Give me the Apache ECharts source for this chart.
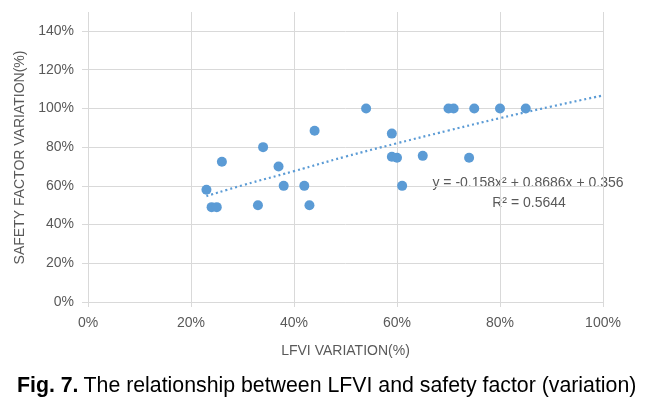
<!DOCTYPE html>
<html>
<head>
<meta charset="utf-8">
<script src="https://cdn.jsdelivr.net/npm/echarts@6/dist/echarts.min.js"></script>
<style>html,body{margin:0;padding:0;background:#fff;}#c{width:647px;height:403px;}</style>
</head>
<body>
<div id="c"></div>
<script>
// LFVI variation (x) and safety factor variation (y), as fractions
const lfvi = [0.23, 0.24, 0.25, 0.26, 0.33, 0.34, 0.37, 0.38, 0.42, 0.43, 0.44,
              0.54, 0.59, 0.59, 0.60, 0.61, 0.65, 0.70, 0.71, 0.74, 0.75, 0.80, 0.85];
const safety = [0.58, 0.49, 0.49, 0.725, 0.50, 0.80, 0.70, 0.60, 0.60, 0.50, 0.885,
                1.00, 0.87, 0.75, 0.745, 0.60, 0.755, 1.00, 1.00, 0.745, 1.00, 1.00, 1.00];
// trendline values
const trendX = [0.23, 0.30, 0.40, 0.50, 0.60, 0.70, 0.80, 0.90, 1.00];
const trendY = [0.547, 0.603, 0.676, 0.751, 0.820, 0.886, 0.950, 1.010, 1.067];
const xTicks = [0, 0.2, 0.4, 0.6, 0.8, 1.0];
const yTicks = [0, 0.2, 0.4, 0.6, 0.8, 1.0, 1.2, 1.4];
const eqText = 'y = -0.158x\u00B2 + 0.8686x + 0.356';
const r2Text = 'R\u00B2 = 0.5644';
const xName = 'LFVI VARIATION(%)';
const yName = 'SAFETY FACTOR VARIATION(%)';
const figLabel = 'Fig. 7.';
const caption = 'The relationship between LFVI and safety factor (variation)';

const font = 'Liberation Sans, Arial, sans-serif';
const grey = '#595959';
const gridC = '#d9d9d9';
const pct = v => Math.round(v * 100) + '%';

const chart = echarts.init(document.getElementById('c'));
chart.setOption({
  animation: false,
  backgroundColor: '#fff',
  title: {
    left: 12, top: 371,
    text: '{b|' + figLabel + '} {n|' + caption + '}',
    textStyle: {
      fontWeight: 'normal',
      rich: {
        b: { fontFamily: font, fontSize: 21.3, fontWeight: 'bold', color: '#000' },
        n: { fontFamily: font, fontSize: 21.3, fontWeight: 'normal', color: '#000' }
      }
    }
  },
  grid: [
    { left: 88, right: 44, top: 31, height: 271 },
    { left: 88, right: 44, top: 12, height: 19 }
  ],
  xAxis: [
    {
      gridIndex: 0, type: 'value', min: xTicks[0], max: xTicks[xTicks.length - 1], interval: 0.2,
      name: xName, nameLocation: 'middle', nameGap: 42,
      nameTextStyle: { fontFamily: font, fontSize: 14, color: grey },
      axisLine: { show: true, lineStyle: { color: gridC } },
      axisTick: { show: true, length: 5, lineStyle: { color: gridC } },
      axisLabel: { formatter: pct, fontFamily: font, fontSize: 14, color: grey, margin: 14 },
      splitLine: { show: true, lineStyle: { color: gridC } }
    },
    {
      gridIndex: 1, type: 'value', min: xTicks[0], max: xTicks[xTicks.length - 1], interval: 0.2,
      axisLine: { show: false }, axisTick: { show: false }, axisLabel: { show: false },
      splitLine: { show: true, lineStyle: { color: gridC } }
    }
  ],
  yAxis: [
    {
      gridIndex: 0, type: 'value', min: yTicks[0], max: yTicks[yTicks.length - 1], interval: 0.2,
      name: yName, nameLocation: 'middle', nameGap: 57,
      nameTextStyle: { fontFamily: font, fontSize: 14, color: grey, padding: [0, 0, 0, 18] },
      axisLine: { show: true, lineStyle: { color: gridC } },
      axisTick: { show: true, length: 6, lineStyle: { color: gridC } },
      axisLabel: { formatter: pct, fontFamily: font, fontSize: 14, color: grey, margin: 14 },
      splitLine: { show: true, lineStyle: { color: gridC } }
    },
    { gridIndex: 1, type: 'value', show: false, min: 0, max: 1 }
  ],
  series: [
    {
      type: 'line', xAxisIndex: 0, yAxisIndex: 0,
      data: trendX.map((x, i) => [x, trendY[i]]),
      smooth: true, showSymbol: false, silent: true, z: 1,
      lineStyle: { color: '#5b9bd5', width: 2.2, type: [2, 3] }
    },
    {
      type: 'scatter', xAxisIndex: 0, yAxisIndex: 0,
      data: lfvi.map((x, i) => [x, safety[i]]),
      symbolSize: 10, z: 3,
      itemStyle: { color: '#5b9bd5', opacity: 1 }
    }
  ],
  graphic: [
    { type: 'text', x: 528, y: 183, style: { text: eqText, fontFamily: font, fontSize: 14, fill: grey, align: 'center', verticalAlign: 'middle' } },
    { type: 'text', x: 529, y: 203, style: { text: r2Text, fontFamily: font, fontSize: 14, fill: grey, align: 'center', verticalAlign: 'middle' } }
  ]
});
</script>
</body>
</html>
